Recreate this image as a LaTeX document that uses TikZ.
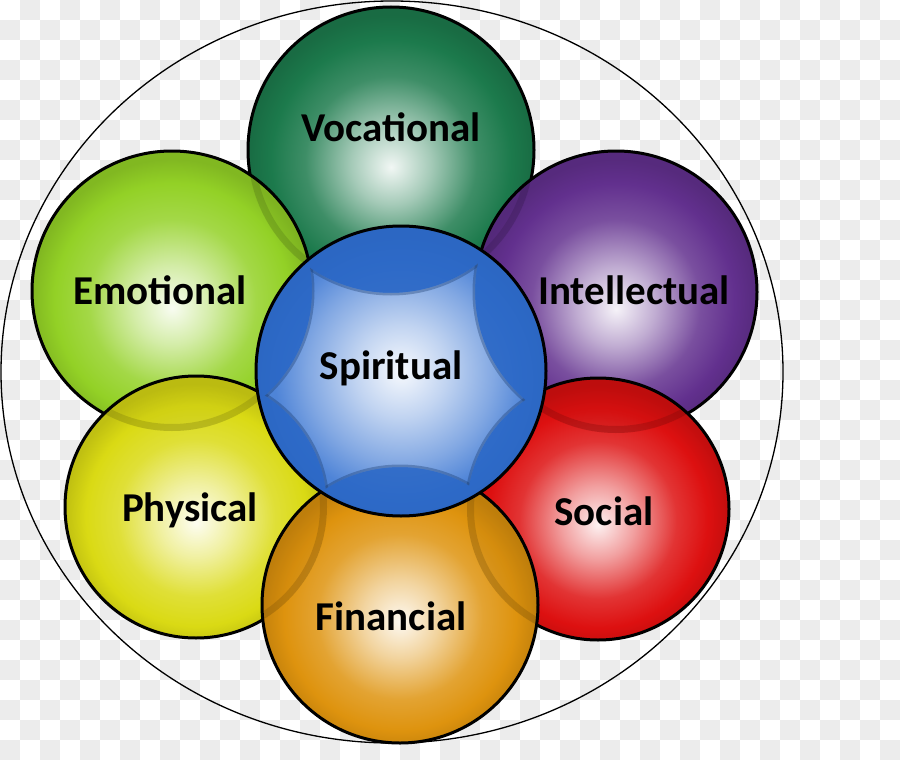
\documentclass[tikz,border=0pt]{standalone}
\usepackage{fontspec}
\setmainfont{Carlito}
\definecolor{cgreen}{HTML}{1C7A4C}
\definecolor{clime}{HTML}{93D126}
\definecolor{cpurple}{HTML}{62308E}
\definecolor{cyellow}{HTML}{DADA14}
\definecolor{cred}{HTML}{DD1010}
\definecolor{corange}{HTML}{DE930E}
\definecolor{cblue}{HTML}{2F6ED0}
\definecolor{chk}{HTML}{ECECEC}
\colorlet{bcol}{red}
\pgfdeclareradialshading[bcol]{sphere}{\pgfpoint{0bp}{-3bp}}{%
 color(0bp)=(bcol!6!white); color(7bp)=(bcol!40!white); color(15bp)=(bcol!85!white);
 color(21bp)=(bcol); color(25bp)=(bcol!88!black); color(50bp)=(bcol!88!black)}
\pgfdeclareradialshading[bcol]{glow}{\pgfpoint{0bp}{0bp}}{%
 color(0bp)=(bcol!4!white); color(8bp)=(bcol!30!white); color(16bp)=(bcol!60!white);
 color(22bp)=(bcol!85!white); color(50bp)=(bcol!85!white)}
\tikzset{
 sphere/.style={/utils/exec={\colorlet{bcol}{#1}}, shading=sphere},
 glow/.style={/utils/exec={\colorlet{bcol}{#1}}, shading=glow},
 rim/.style={draw=black, line width=3pt},
 lbl/.style={font=\fontsize{41}{43}\selectfont\bfseries, text=black, inner sep=0pt},
}
\newcommand\lensfx[5]{%
 \begin{scope}
 \clip (#3) circle[radius=#4];
 \clip (#1) circle[radius=#2];
 \fill[#5!75!black, opacity=.15] (#1) circle[radius=#2];
 \draw[#5!55!black, opacity=.30, line width=14pt] (#1) circle[radius=#2];
 \end{scope}}
\newcommand\outsideof[2]{\clip (-10,-10) rectangle (910,770) (#1) circle[radius=#2];}
\begin{document}
\begin{tikzpicture}[x=1pt,y=-1pt]
\useasboundingbox (0,0) rectangle (900,760);
\fill[white] (0,0) rectangle (900,760);
\foreach \i in {0,2,...,44}{
 \foreach \j in {0,2,...,36}{
  \fill[chk] (\i*20,\j*20+20) rectangle (\i*20+20,\j*20+40);
  \fill[chk] (\i*20+20,\j*20) rectangle (\i*20+40,\j*20+20);
 }
}
% centres
\coordinate (E) at (392,372);
\coordinate (G) at (391,150);
\coordinate (L) at (172,291);
\coordinate (P) at (616,292);
\coordinate (Y) at (196,507);
\coordinate (R) at (598,509);
\coordinate (O) at (400,605);
\coordinate (S) at (401,371);
% outer ring
\draw[line width=1.3pt] (E) ellipse[x radius=391pt, y radius=371pt];
% green
\shade[sphere=cgreen] (G) circle[radius=143pt];
\draw[rim] (G) circle[radius=143pt];
% lime
\shade[sphere=clime] (L) circle[radius=140pt];
\lensfx{G}{143pt}{L}{140pt}{clime}
\draw[rim] (L) circle[radius=140pt];
% purple
\shade[sphere=cpurple] (P) circle[radius=141pt];
\lensfx{G}{143pt}{P}{141pt}{cpurple}
\draw[rim] (P) circle[radius=141pt];
% yellow
\shade[sphere=cyellow] (Y) circle[radius=131pt];
\lensfx{L}{140pt}{Y}{131pt}{cyellow}
\draw[rim] (Y) circle[radius=131pt];
% red
\shade[sphere=cred] (R) circle[radius=131pt];
\lensfx{P}{141pt}{R}{131pt}{cred}
\draw[rim] (R) circle[radius=131pt];
% orange
\shade[sphere=corange] (O) circle[radius=138pt];
\lensfx{Y}{131pt}{O}{138pt}{corange}
\lensfx{R}{131pt}{O}{138pt}{corange}
\draw[rim] (O) circle[radius=138pt];
% blue centre
\shade[sphere=cblue] (S) circle[radius=145pt];
\begin{scope}[even odd rule]
 \clip (S) circle[radius=145pt];
 \fill[cblue!95!black, opacity=.82] (S) circle[radius=145pt];
 \outsideof{G}{143pt}\outsideof{L}{140pt}\outsideof{P}{141pt}
 \outsideof{Y}{131pt}\outsideof{R}{131pt}\outsideof{O}{138pt}
 \shade[glow=cblue] (S) circle[radius=145pt];
 \foreach \c/\r in {G/143,L/140,P/141,Y/131,R/131,O/138}{
  \draw[cblue!50!black, opacity=.35, line width=5pt] (\c) circle[radius=\r pt];}
\end{scope}
\draw[rim] (S) circle[radius=145pt];
% labels
\node[lbl] (tvoc) at (391,127) {Vocational};
\node[lbl] (temo) at (160,290) {Emotional};
\node[lbl] (tint) at (634,290) {Intellectual};
\node[lbl] (tspi) at (391,368) {Spiritual};
\node[lbl] (tphy) at (190,510) {Physical};
\node[lbl] (tsoc) at (604,511) {Social};
\node[lbl] (tfin) at (391,616) {Financial};
\end{tikzpicture}
\end{document}
